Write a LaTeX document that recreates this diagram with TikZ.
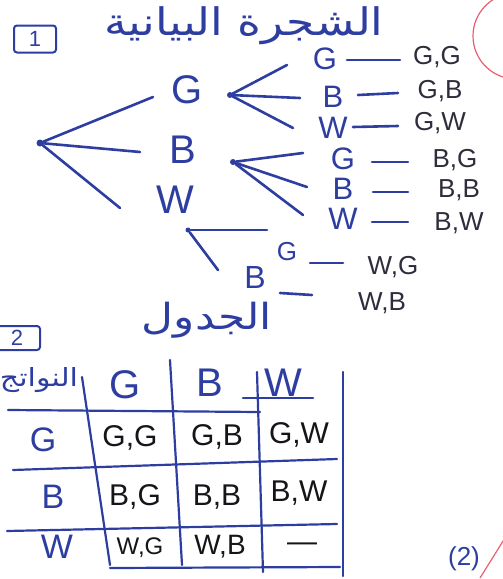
\documentclass[tikz,border=0pt]{standalone}
\usepackage{fontspec}
\setmainfont{Liberation Sans}
\newfontfamily\arabicfont[Script=Arabic]{DejaVu Sans}
\TeXXeTstate=1
\usetikzlibrary{calc}
\definecolor{inkblue}{RGB}{45,62,160}
\definecolor{pairgray}{RGB}{45,45,60}
\definecolor{cellblack}{RGB}{20,20,25}
\definecolor{redpen}{RGB}{232,96,110}
\begin{document}
\begin{tikzpicture}[x=1pt,y=-1pt,
  ink/.style={draw=inkblue, line width=2.6pt, line cap=round},
  tbl/.style={draw=inkblue, line width=2.2pt, line cap=round},
  lvla/.style={text=inkblue, font=\fontsize{40}{40}\selectfont, inner sep=0pt},
  lvlb/.style={text=inkblue, font=\fontsize{31}{31}\selectfont, inner sep=0pt},
  pair/.style={text=pairgray, font=\fontsize{26}{26}\selectfont, inner sep=0pt},
  cell/.style={text=cellblack, font=\fontsize{30}{30}\selectfont, inner sep=0pt},
  hdr/.style={text=inkblue, font=\fontsize{40}{40}\selectfont, inner sep=0pt},
  rowlab/.style={text=inkblue, font=\fontsize{34}{34}\selectfont, inner sep=0pt},
  ar/.style={text=inkblue, inner sep=0pt},
  dotnode/.style={circle, fill=inkblue, inner sep=0pt, minimum size=7pt},
  numbox/.style={draw=inkblue, line width=2pt, rounded corners=3pt, text=inkblue, font=\fontsize{22}{22}\selectfont},
]
\useasboundingbox (0,0) rectangle (503,579);
\begin{scope}
\clip (0,0) rectangle (503,579);

% headings
\node[numbox, minimum width=42pt, minimum height=27pt] (box1) at (35,39) {1};
\node[ar, font=\arabicfont\fontsize{38}{38}\selectfont] (title) at (244,26) {\scalebox{1.2}[1]{\beginR الشجرة البيانية\endR}};

% tree: root and first level
\node[dotnode] (root) at (40,143) {};
\node[lvla] (G1) at (187,90) {G};
\node[lvla] (B1) at (183,150) {B};
\node[lvla] (W1) at (175,200) {W};
\draw[ink] (root) -- ($(G1.center)+(-34,7)$);
\draw[ink] (root) -- ($(B1.center)+(-43,2)$);
\draw[ink] (root) -- ($(W1.center)+(-55,8)$);

% second level after G
\node[dotnode, minimum size=6pt] (gd) at (230,95) {};
\node[lvlb] (gG) at (325,59) {G};
\node[lvlb] (gB) at (333,97) {B};
\node[lvlb] (gW) at (333,128) {W};
\draw[ink] (gd) -- ($(gG.center)+(-38,6)$);
\draw[ink] (gd) -- ($(gB.center)+(-33,1)$);
\draw[ink] (gd) -- ($(gW.center)+(-40,0)$);

% second level after B
\node[dotnode, minimum size=6pt] (bd) at (233,162) {};
\node[lvlb] (bG) at (343,159) {G};
\node[lvlb] (bB) at (343,189) {B};
\node[lvlb] (bW) at (343,219) {W};
\draw[ink] (bd) -- ($(bG.center)+(-40,-6)$);
\draw[ink] (bd) -- ($(bB.center)+(-36,-2)$);
\draw[ink] (bd) -- ($(bW.center)+(-40,-4)$);

% second level after W
\node[dotnode, minimum size=5pt] (wd) at (188,230) {};
\node[lvlb, font=\fontsize{26}{26}\selectfont] (wG) at (287,252) {G};
\node[lvlb, font=\fontsize{32}{32}\selectfont] (wB) at (255,277) {B};
\draw[ink] (wd) -- ($(wG.center)+(-20,-22)$);
\draw[ink] (wd) -- ($(wB.center)+(-37,-7)$);

% outcomes
\node[pair] (pGG) at (437,57) {G,G};
\node[pair] (pGB) at (440,91) {G,B};
\node[pair] (pGW) at (440,123) {G,W};
\node[pair] (pBG) at (455,160) {B,G};
\node[pair] (pBB) at (459,190) {B,B};
\node[pair] (pBW) at (459,223) {B,W};
\node[pair] (pWG) at (393,267) {W,G};
\node[pair] (pWB) at (382,303) {W,B};
\draw[ink] ($(gG.center)+(22,1)$) -- ($(pGG.center)+(-37,3)$);
\draw[ink] ($(gB.center)+(25,-2)$) -- ($(pGB.center)+(-42,2)$);
\draw[ink] ($(gW.center)+(20,-1)$) -- ($(pGW.center)+(-42,3)$);
\draw[ink] ($(bG.center)+(29,3)$) -- ($(pBG.center)+(-47,2)$);
\draw[ink] ($(bB.center)+(30,3)$) -- ($(pBB.center)+(-51,2)$);
\draw[ink] ($(bW.center)+(29,3)$) -- ($(pBW.center)+(-51,-1)$);
\draw[ink] ($(wG.center)+(23,11)$) -- ($(pWG.center)+(-50,-4)$);
\draw[ink] ($(wB.center)+(25,16)$) -- ($(pWB.center)+(-70,-8)$);

% table heading
\node[numbox, minimum width=46pt, minimum height=24pt] (box2) at (17,338) {2};
\node[ar, font=\arabicfont\fontsize{36}{36}\selectfont] (tabtitle) at (207,320) {\scalebox{1.22}[1]{\beginR الجدول\endR}};

% table lines
\coordinate (v1t) at (82,377);  \coordinate (v1b) at (110,565);
\coordinate (v2t) at (170,360); \coordinate (v2b) at (182,565);
\coordinate (v3t) at (257,372); \coordinate (v3b) at (263,572);
\coordinate (v4t) at (343,372); \coordinate (v4b) at (343,576);
\draw[tbl] (v1t) -- (v1b);
\draw[tbl] (v2t) -- (v2b);
\draw[tbl] (v3t) -- (v3b);
\draw[tbl] (v4t) -- (v4b);
\coordinate (h1l) at (8,410);   \coordinate (h1r) at (260,412);
\coordinate (ul) at (243,398);  \coordinate (ur) at (313,398);
\coordinate (h2l) at (13,470);  \coordinate (h2r) at (337,459);
\coordinate (h3l) at (7,531);   \coordinate (h3r) at (337,524);
\coordinate (h4l) at (110,568); \coordinate (h4r) at (340,567);
\draw[tbl] (h1l) -- (h1r);
\draw[tbl] (ul) -- (ur);
\draw[tbl] (h2l) -- (h2r);
\draw[tbl] (h3l) -- (h3r);
\draw[tbl] (h4l) -- (h4r);

% table texts
\node[ar, font=\arabicfont\fontsize{25}{25}\selectfont] (outc) at (39,380) {\scalebox{1.2}[1]{\beginR النواتج\endR}};
\node[hdr] (hG) at (125,385) {G};
\node[hdr] (hB) at (210,383) {B};
\node[hdr] (hW) at (283,383) {W};
\node[rowlab] (rG) at (43,440) {G};
\node[rowlab] (rB) at (53,497) {B};
\node[rowlab] (rW) at (57,547) {W};
\node[cell] (cGG) at (130,438) {G,G};
\node[cell] (cGB) at (217,437) {G,B};
\node[cell] (cGW) at (299,435) {G,W};
\node[cell] (cBG) at (135,497) {B,G};
\node[cell] (cBB) at (217,497) {B,B};
\node[cell] (cBW) at (299,493) {B,W};
\node[cell, font=\fontsize{24}{24}\selectfont] (cWG) at (140,548) {W,G};
\node[cell, font=\fontsize{28}{28}\selectfont] (cWB) at (220,547) {W,B};
\node[cell] (cWW) at (302,547) {—};

% marks
\node[text=inkblue, font=\fontsize{26}{26}\selectfont, inner sep=0pt] (mark2) at (464,559) {(2)};
\coordinate (s1) at (480,578); \coordinate (s2) at (505,538);
\draw[draw=redpen, line width=1.2pt] (s1) -- (s2);
\coordinate (rc) at (516,36);
\draw[draw=redpen, line width=1.2pt] (rc) circle (43);
\end{scope}
\end{tikzpicture}
\end{document}
